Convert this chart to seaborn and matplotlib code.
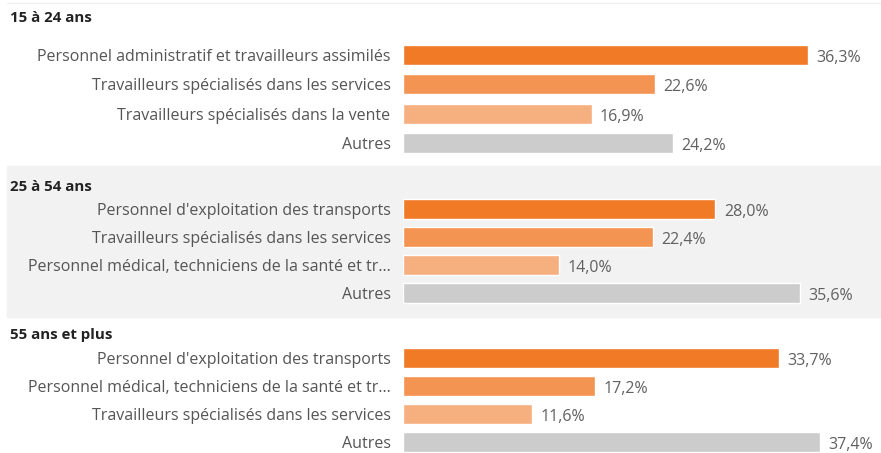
import matplotlib
matplotlib.use("Agg")
import matplotlib.pyplot as plt
import matplotlib.patches as mpatches
import seaborn as sns
import pandas as pd

# Données
groupes = ["15 à 24 ans", "25 à 54 ans", "55 ans et plus"]

cat_15_24 = ["Personnel administratif et travailleurs assimilés",
             "Travailleurs spécialisés dans les services",
             "Travailleurs spécialisés dans la vente",
             "Autres"]
val_15_24 = [36.3, 22.6, 16.9, 24.2]

cat_25_54 = ["Personnel d'exploitation des transports",
             "Travailleurs spécialisés dans les services",
             "Personnel médical, techniciens de la santé et tr...",
             "Autres"]
val_25_54 = [28.0, 22.4, 14.0, 35.6]

cat_55 = ["Personnel d'exploitation des transports",
          "Personnel médical, techniciens de la santé et tr...",
          "Travailleurs spécialisés dans les services",
          "Autres"]
val_55 = [33.7, 17.2, 11.6, 37.4]

couleurs = ["#F07A26", "#F39453", "#F6AF7E", "#CCCCCC"]

sns.set_style("white")
plt.rcParams['font.family'] = ['Open Sans', 'DejaVu Sans']

W, H = 881, 453
fig = plt.figure(figsize=(W / 100, H / 100), dpi=100)

# Fond gris du panneau central
fig.patches.append(mpatches.Rectangle((7 / W, 1 - 317 / H), 1 - 7 / W, (317 - 166) / H,
                                      transform=fig.transFigure, color="#F2F2F2", zorder=-5))
fig.lines.append(plt.Line2D([7 / W, 1], [1 - 3 / H, 1 - 3 / H], transform=fig.transFigure,
                            color="#F0F0F0", lw=1, zorder=-5))

# (titre, catégories, valeurs, titre y, premier centre, dernier centre)
panneaux = [
    (groupes[0], cat_15_24, val_15_24, 18, 55, 143),
    (groupes[1], cat_25_54, val_25_54, 187, 209, 293),
    (groupes[2], cat_55, val_55, 335, 358, 442),
]

x0 = 403
xmax_pct = (W - x0) / 11.16

for titre, cats, vals, ty, c0, c1 in panneaux:
    pas = (c1 - c0) / 3
    top = c0 - pas / 2
    bot = c1 + pas / 2
    ax = fig.add_axes([x0 / W, 1 - bot / H, 1 - x0 / W, (bot - top) / H])
    ax.patch.set_alpha(0)
    df = pd.DataFrame({"cat": range(4), "val": vals})
    sns.barplot(data=df, x="val", y="cat", hue="cat", palette=couleurs, orient="h",
                legend=False, ax=ax, width=20 / pas, saturation=1)
    ax.set_xlim(0, xmax_pct)
    ax.set_ylim(3.5, -0.5)
    ax.set_yticks(range(4))
    ax.set_yticklabels(cats, fontsize=11.5, color="#555555")
    ax.tick_params(axis="y", length=0, pad=9)
    ax.set_xticks([])
    ax.set_xlabel("")
    ax.set_ylabel("")
    sns.despine(ax=ax, left=True, bottom=True)
    for i, v in enumerate(vals):
        ax.text(v + 0.75, i + 0.1, f"{v:.1f}%".replace(".", ","), va="center",
                ha="left", fontsize=11.5, color="#606060")
    fig.text(10 / W, 1 - ty / H, titre, fontsize=10.8, fontweight="bold",
             color="#222222", va="center", ha="left")

fig.savefig("out.png", dpi=100)
